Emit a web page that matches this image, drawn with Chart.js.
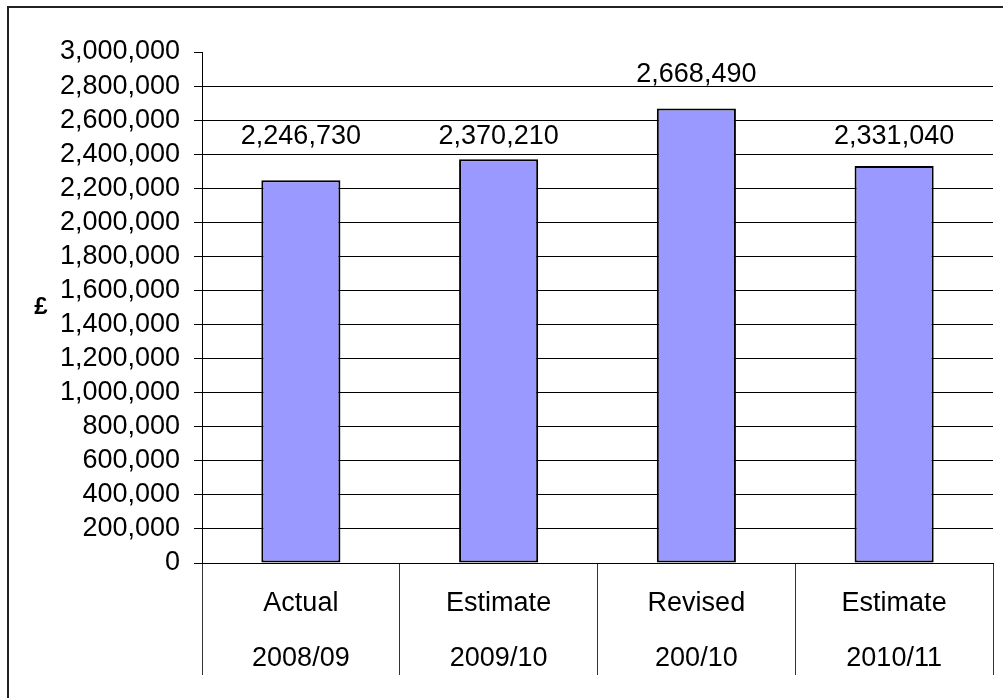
<!DOCTYPE html>
<html>
<head>
<meta charset="utf-8">
<script src="https://cdn.jsdelivr.net/npm/chart.js@4/dist/chart.umd.min.js"></script>
<style>
  html, body { margin: 0; padding: 0; background: #fff; }
  canvas { display: block; }
</style>
</head>
<body>
<canvas id="budgetChart" width="1003" height="698"></canvas>
<script>
const labelTop = ['Actual', 'Estimate', 'Revised', 'Estimate'];
const labelYear = ['2008/09', '2009/10', '200/10', '2010/11'];
const amounts = [2246730, 2370210, 2668490, 2331040];
// where the value labels sit, in axis units (they were moved by hand in the original)
const labelLevels = [2505000, 2505000, 2870000, 2505000];
const yTicksMax = 3000000;
const yTicksStep = 200000;

const FONT = '"Liberation Sans", Arial, sans-serif';

const fmt = v => Number(v).toLocaleString('en-GB');

// outer frame (only top and left edges fall inside the picture)
const framePlugin = {
    id: 'frame',
    beforeDraw(chart) {
        const ctx = chart.ctx;
        ctx.save();
        ctx.fillStyle = '#fff';
        ctx.fillRect(0, 0, chart.width, chart.height);
        ctx.strokeStyle = '#222';
        ctx.lineWidth = 2;
        ctx.beginPath();
        ctx.moveTo(8, chart.height);
        ctx.lineTo(8, 7);
        ctx.lineTo(chart.width, 7);
        ctx.stroke();
        ctx.restore();
    }
};

// value labels above the bars + the upright £ axis title
const labelsPlugin = {
    id: 'valueLabels',
    afterDatasetsDraw(chart) {
        const ctx = chart.ctx;
        const meta = chart.getDatasetMeta(0);
        const yScale = chart.scales.y;
        ctx.save();
        ctx.fillStyle = '#000';
        ctx.font = '27px ' + FONT;
        ctx.textAlign = 'center';
        ctx.textBaseline = 'middle';
        meta.data.forEach((bar, i) => {
            ctx.fillText(fmt(amounts[i]), bar.x, yScale.getPixelForValue(labelLevels[i]));
        });
        ctx.font = 'bold 24px ' + FONT;
        const midY = (chart.chartArea.top + chart.chartArea.bottom) / 2;
        ctx.fillText('£', 41, midY);
        ctx.restore();
    }
};

new Chart(document.getElementById('budgetChart'), {
    type: 'bar',
    data: {
        labels: labelTop.map((t, i) => [t, labelYear[i]]),
        datasets: [{
            data: amounts,
            backgroundColor: '#9999FF',
            borderColor: '#000',
            borderWidth: 2,
            borderSkipped: false,
            barPercentage: 0.4,
            categoryPercentage: 1
        }]
    },
    options: {
        responsive: false,
        animation: false,
        layout: { padding: { top: 52, right: 10, left: 0, bottom: 0 } },
        plugins: { legend: { display: false }, tooltip: { enabled: false } },
        scales: {
            x: {
                offset: true,
                border: { display: true, color: '#000', width: 1 },
                grid: {
                    offset: true,
                    drawOnChartArea: false,
                    drawTicks: true,
                    tickLength: 112,
                    color: '#333',
                    lineWidth: 1
                },
                ticks: {
                    color: '#000',
                    font: { family: FONT, size: 27, lineHeight: 2.04 },
                    padding: -99,
                    maxRotation: 0,
                    autoSkip: false
                },
                afterFit(scale) { scale.height = 135; }
            },
            y: {
                min: 0,
                max: yTicksMax,
                border: { display: true, color: '#000', width: 1 },
                grid: {
                    color: c => (c.tick && c.tick.value === yTicksMax) ? 'rgba(0,0,0,0)' : '#000',
                    tickColor: '#000',
                    tickLength: 8,
                    lineWidth: 1
                },
                ticks: {
                    stepSize: yTicksStep,
                    autoSkip: false,
                    color: '#000',
                    padding: 14,
                    font: { family: FONT, size: 27 },
                    callback: v => fmt(v)
                },
                afterFit(scale) { scale.width = 202; }
            }
        }
    },
    plugins: [framePlugin, labelsPlugin]
});
</script>
</body>
</html>
